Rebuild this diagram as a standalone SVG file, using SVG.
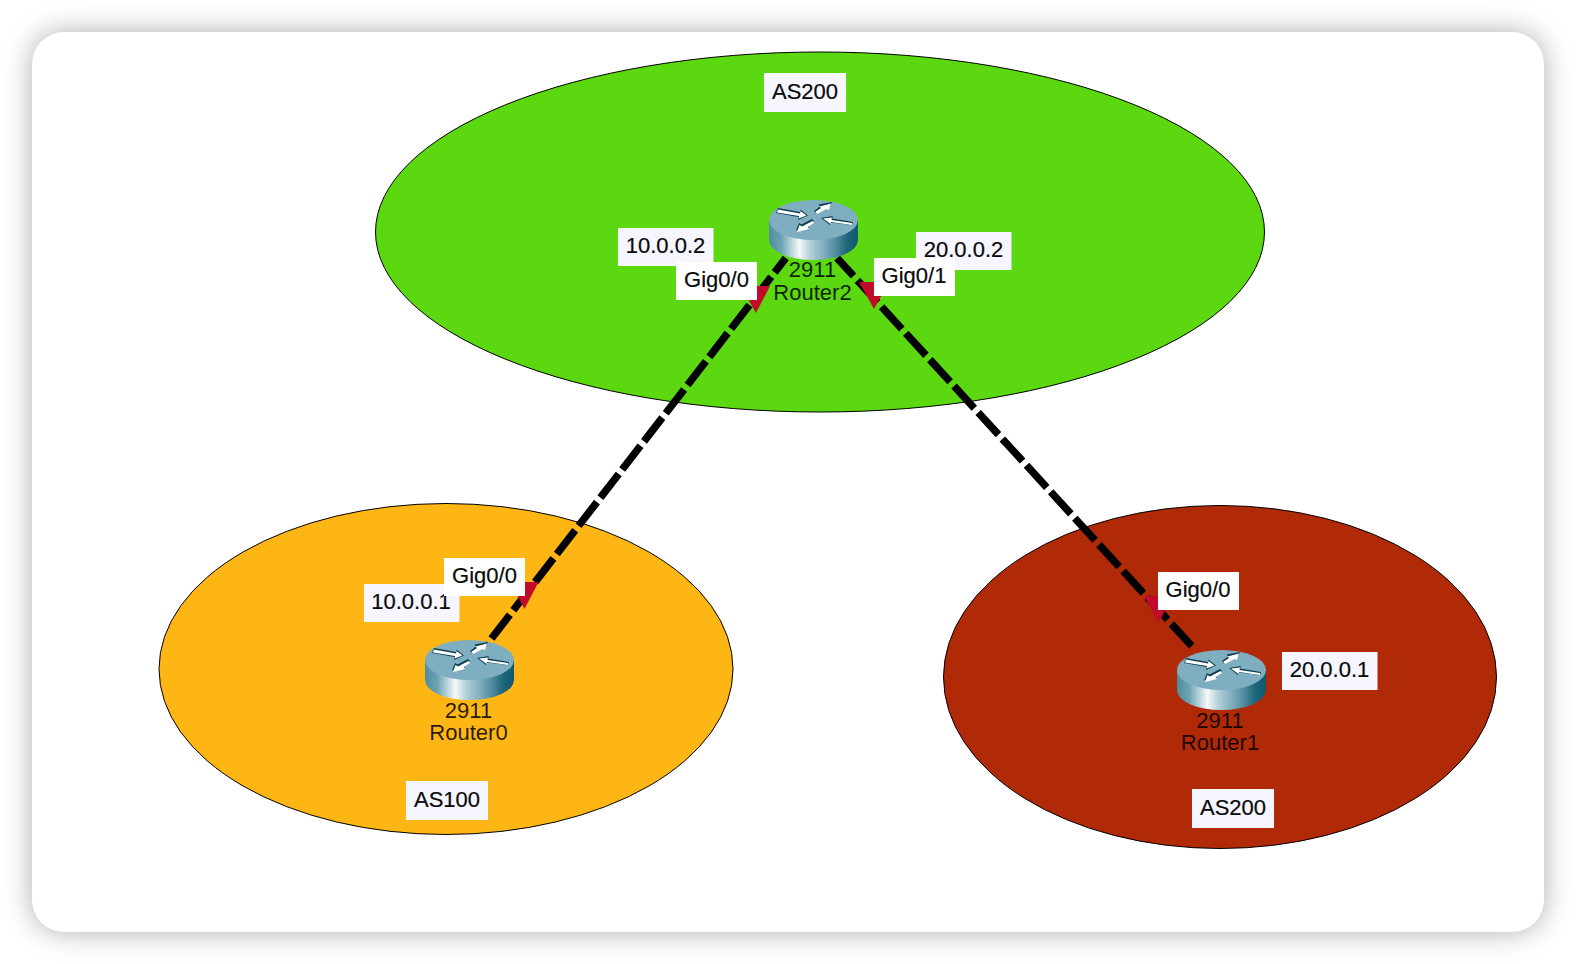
<svg xmlns="http://www.w3.org/2000/svg" xmlns:xlink="http://www.w3.org/1999/xlink" width="1576" height="964" viewBox="0 0 1576 964">
<style>
text{font-family:"Liberation Sans",Arial,sans-serif}
.as{stroke:#000;stroke-width:1}
.link{fill:none;stroke:#000;stroke-width:7.500}
.tri{fill:#c20a2a}
.box{fill:#f5f6ff}
.box.w{fill:#fff}
.lab{font-size:22px;fill:#0a0a0a;text-anchor:middle;stroke:#0a0a0a;stroke-width:.2}
.dev{font-size:22px;fill:#000;fill-opacity:.85;text-anchor:middle}
.shade{fill:#0c3d50}
.arrow{fill:#fff}
</style>
<defs>
<filter id="sh" x="-10%" y="-10%" width="120%" height="120%"><feGaussianBlur stdDeviation="14"/></filter>
<linearGradient id="side" x1="0" x2="1" y1="0" y2="0">
<stop offset="0" stop-color="#4f8c9d"/><stop offset=".14" stop-color="#6ea4b2"/><stop offset=".34" stop-color="#f4f9fa"/><stop offset=".46" stop-color="#b5d0d9"/><stop offset=".68" stop-color="#6a9fb1"/><stop offset=".88" stop-color="#1e6579"/><stop offset="1" stop-color="#0f5870"/>
</linearGradient>
<g id="router">
<path d="M0 20V40A44.500 20 0 0 0 89 40V20Z" fill="url(#side)"/>
<ellipse cx="44.500" cy="20" rx="44.500" ry="20" fill="#80aec1"/>
<g class="shade">
<path d="M9 8L31 12L31.500 9.500L39 15.500L29 20L29.500 17L7 13Z"/>
<path d="M45 11L51 6.500L49.500 4.500L63 2L60 9L57.500 8L47 14Z"/>
<path d="M84 22L63 18.500L64 16L52 18L61 25L61.500 22.500L83 25Z"/>
<path d="M45 21L38 25.500L40 27.500L27 30.500L30 23L32.500 24.500L43 19Z"/>
</g>
<g class="arrow">
<path d="M9 9.500L31 13.500L31.500 11L37.500 15.500L29.500 18.500L30 16L8 12.500Z"/>
<path d="M46 12L52 8L50.500 6.500L62 3.500L60 10L57.500 9L48 14Z"/>
<path d="M83 23L62.500 20L63 17.500L54 18.500L61.500 24L62 22L83 25Z"/>
<path d="M45 23L38.500 27L40 29L28 32L30.500 25L33 26.500L43.500 21Z"/>
</g>
</g>
</defs>
<rect width="1576" height="964" fill="#fff"/>
<rect x="32" y="32" width="1512" height="900" rx="32" fill="#000" fill-opacity=".32" filter="url(#sh)"/>
<rect x="32" y="32" width="1512" height="900" rx="32" fill="#fff"/>

<g id="area-as200-top"><ellipse class="as" cx="820" cy="232" rx="444.500" ry="180" fill="#5bd80f"/></g>
<g id="area-as100"><ellipse class="as" cx="446" cy="669" rx="287" ry="165.500" fill="#feb614"/></g>
<g id="area-as200-right"><ellipse class="as" cx="1220" cy="677" rx="276.500" ry="171.500" fill="#b12a08"/></g>

<g id="connectors">
<path class="link" d="M785.800 258L488 643" stroke-dasharray="30 5.600" stroke-dashoffset="11.800"/>
<path class="link" d="M837 258L1193.500 648" stroke-dasharray="30 5.800" stroke-dashoffset="5.500"/>
<polygon class="tri" points="740.500,286 770,286 756,313"/>
<polygon class="tri" points="859,282 889,282 874,309"/>
<polygon class="tri" points="510,582 538.500,582 524.500,609"/>
<polygon class="tri" points="1144,596 1173,596 1158.500,623"/>
</g>

<g id="router2"><use xlink:href="#router" href="#router" x="769" y="200"/>
<text class="dev" x="812.500" y="277">2911</text><text class="dev" x="812.500" y="299.500">Router2</text></g>
<g id="router0"><use xlink:href="#router" href="#router" x="425" y="640"/>
<text class="dev" x="468.500" y="718">2911</text><text class="dev" x="468.500" y="740">Router0</text></g>
<g id="router1"><use xlink:href="#router" href="#router" x="1177" y="650"/>
<text class="dev" x="1220" y="728">2911</text><text class="dev" x="1220" y="750">Router1</text></g>

<g id="label-as200-top"><rect class="box" x="764" y="73" width="82" height="39"/><text class="lab" x="805" y="99">AS200</text></g>
<g id="label-as100"><rect class="box" x="406" y="781" width="82" height="39"/><text class="lab" x="447" y="807">AS100</text></g>
<g id="label-as200-right"><rect class="box" x="1192" y="789" width="82" height="39"/><text class="lab" x="1233" y="815">AS200</text></g>

<g id="label-ip-r2-g0"><rect class="box" x="618" y="228" width="95.500" height="38"/><text class="lab" x="665.500" y="253">10.0.0.2</text></g>
<g id="label-if-r2-g0"><rect class="box w" x="676" y="262" width="81" height="38"/><text class="lab" x="716.500" y="287">Gig0/0</text></g>
<g id="label-ip-r2-g1"><rect class="box" x="916" y="232" width="95.500" height="38"/><text class="lab" x="963.500" y="257">20.0.0.2</text></g>
<g id="label-if-r2-g1"><rect class="box w" x="874" y="258" width="81" height="38"/><text class="lab" x="914" y="283">Gig0/1</text></g>
<g id="label-ip-r0"><rect class="box" x="364" y="584" width="95.500" height="38"/><text class="lab" x="411" y="609">10.0.0.1</text></g>
<g id="label-if-r0"><rect class="box w" x="444" y="558" width="81" height="38"/><text class="lab" x="484.500" y="583">Gig0/0</text></g>
<g id="label-if-r1"><rect class="box w" x="1158" y="572" width="81" height="38"/><text class="lab" x="1198" y="597">Gig0/0</text></g>
<g id="label-ip-r1"><rect class="box" x="1282" y="652" width="95.500" height="38"/><text class="lab" x="1329.500" y="677">20.0.0.1</text></g>
</svg>
